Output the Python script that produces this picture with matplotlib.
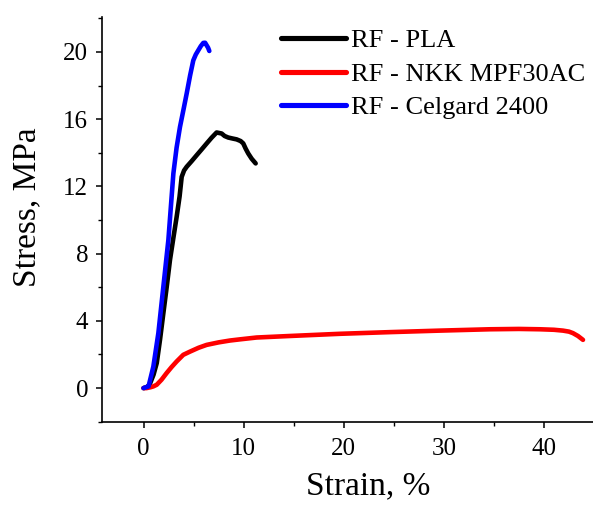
import matplotlib
matplotlib.use("Agg")
import matplotlib.pyplot as plt
from matplotlib.ticker import MultipleLocator

plt.rcParams['font.family'] = ['Liberation Serif', 'DejaVu Serif']

# Data
pla_strain = [0.0, 0.3, 0.6, 1.0, 1.32, 1.65, 1.98, 2.31, 2.64, 2.97, 3.31, 3.6, 3.81, 4.05, 4.31, 4.8, 5.31, 5.8, 6.31, 6.8, 7.3, 7.8, 8.1, 8.46, 8.9, 9.3, 9.7, 9.96, 10.2, 10.46, 10.8, 11.2]
pla_stress = [0.0, 0.05, 0.2, 0.8, 1.49, 2.9, 4.46, 6.0, 7.62, 8.9, 10.2, 11.4, 12.57, 12.95, 13.17, 13.5, 13.86, 14.2, 14.56, 14.9, 15.21, 15.15, 15.0, 14.91, 14.85, 14.8, 14.7, 14.56, 14.25, 13.96, 13.65, 13.37]

nkk_strain = [0.0, 0.3, 0.7, 0.98, 1.32, 1.8, 2.3, 2.8, 3.3, 3.97, 4.64, 5.5, 6.3, 7.5, 8.63, 9.63, 11.3, 14.6, 19.6, 24.6, 29.6, 34.6, 37.5, 39.6, 41.0, 41.9, 42.5, 42.9, 43.4, 43.9]
nkk_stress = [0.0, 0.0, 0.05, 0.1, 0.2, 0.5, 0.89, 1.25, 1.58, 1.98, 2.17, 2.4, 2.57, 2.72, 2.83, 2.9, 3.01, 3.1, 3.23, 3.33, 3.42, 3.5, 3.52, 3.5, 3.47, 3.42, 3.36, 3.27, 3.1, 2.87]

cel_strain = [0.0, 0.5, 0.98, 1.48, 1.98, 2.48, 2.98, 3.3, 3.64, 4.0, 4.31, 4.65, 4.97, 5.22, 5.47, 5.72, 5.97, 6.15, 6.3, 6.45, 6.57]
cel_stress = [0.0, 0.1, 1.28, 3.27, 6.04, 8.81, 12.77, 14.3, 15.54, 16.6, 17.53, 18.6, 19.5, 19.85, 20.1, 20.35, 20.54, 20.55, 20.4, 20.25, 20.06]

labels = ["RF - PLA", "RF - NKK MPF30AC", "RF - Celgard 2400"]
colors = ["#000000", "#ff0000", "#0000ff"]

fig = plt.figure(figsize=(5.93, 5.05), dpi=100)
ax = fig.add_axes([101.5 / 593, 83.3 / 505, (593 - 101.5) / 593, (421.7 - 16.7) / 505])

lw = 3.3
ax.plot(pla_strain, pla_stress, color=colors[0], lw=lw, label=labels[0], solid_capstyle='round', solid_joinstyle='round')
ax.plot(nkk_strain, nkk_stress, color=colors[1], lw=lw, label=labels[1], solid_capstyle='round', solid_joinstyle='round')
ax.plot(cel_strain, cel_stress, color=colors[2], lw=lw, label=labels[2], solid_capstyle='round', solid_joinstyle='round')

ax.set_xlim(-4.2, 44.9)
ax.set_ylim(-2, 22.1)
ax.xaxis.set_major_locator(MultipleLocator(10))
ax.xaxis.set_minor_locator(MultipleLocator(5))
ax.yaxis.set_major_locator(MultipleLocator(4))
ax.yaxis.set_minor_locator(MultipleLocator(2))

for s in ['top', 'right']:
    ax.spines[s].set_visible(False)
for s in ['left', 'bottom']:
    ax.spines[s].set_linewidth(1.2)

ax.tick_params(which='major', direction='out', length=4.5, width=1.1, labelsize=18, pad=5)
ax.tick_params(which='minor', direction='out', length=3, width=1.0)
ax.tick_params(axis='x', which='major', pad=7)

ax.set_xlabel("Strain, %", fontsize=24)
ax.set_ylabel("Stress, MPa", fontsize=24)
ax.xaxis.set_label_coords(0.542, -0.12)
ax.yaxis.set_label_coords(-0.12, 0.53)

leg = ax.legend(loc='upper left', bbox_to_anchor=(281 / 593, 476 / 505), bbox_transform=fig.transFigure,
                frameon=False, fontsize=19, handlelength=2.45, handletextpad=0.2,
                labelspacing=0.38, borderpad=0, borderaxespad=0)
for h in leg.get_lines():
    h.set_linewidth(3.7)

fig.savefig("out.png", dpi=100)
